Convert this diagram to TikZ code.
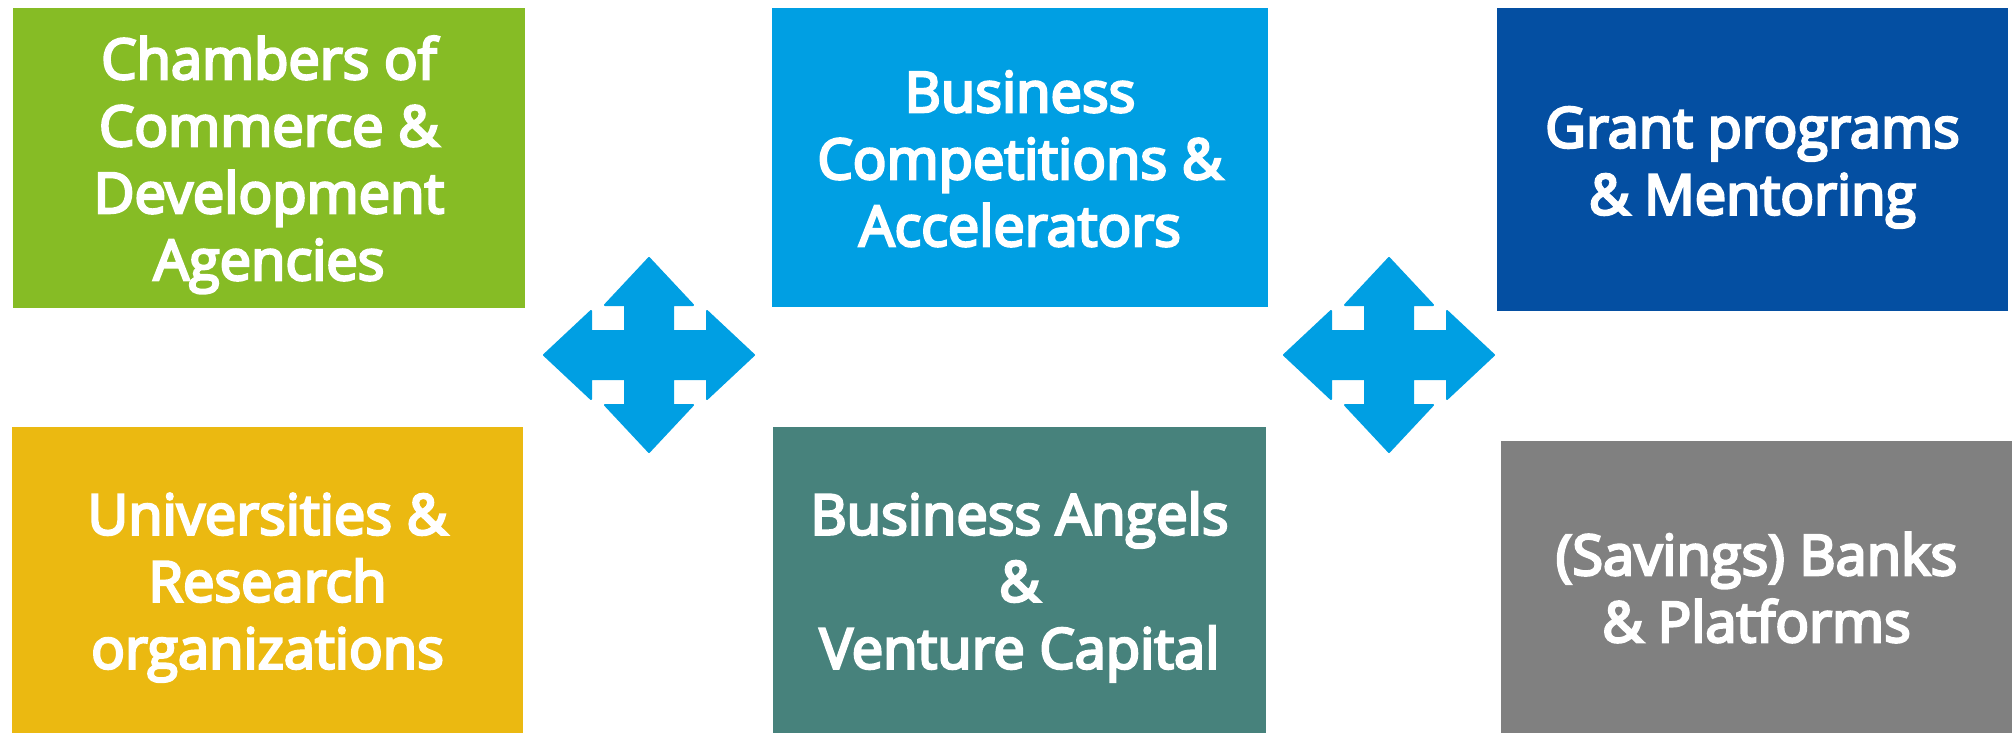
\documentclass[tikz,border=0pt]{standalone}
\usepackage{fontspec}
\setmainfont{Open Sans}[FakeBold=4.5]
\definecolor{cgreen}{RGB}{134,188,37}
\definecolor{cblue}{RGB}{0,159,227}
\definecolor{cdark}{RGB}{4,79,162}
\definecolor{cyellow}{RGB}{235,185,17}
\definecolor{cteal}{RGB}{71,130,124}
\definecolor{cgray}{RGB}{128,128,128}
\newcommand{\firstln}[1]{\rule{0pt}{43pt}\smash{#1}}
\newcommand{\otherln}[1]{\smash{#1}}
\tikzset{
  box/.style={rectangle, inner sep=0pt, text=white, align=center,
    font=\fontsize{56}{67}\selectfont},
  quadarrow/.pic={
    \filldraw[cblue, line width=2pt, line join=round]
      (0,-97) -- (44,-50) -- (24,-50) -- (24,-24) -- (58,-24) -- (58,-44)
      -- (105,0) -- (58,44) -- (58,24) -- (24,24) -- (24,50) -- (44,50)
      -- (0,97) -- (-44,50) -- (-24,50) -- (-24,24) -- (-58,24) -- (-58,44)
      -- (-105,0) -- (-58,-44) -- (-58,-24) -- (-24,-24) -- (-24,-50) -- (-44,-50)
      -- cycle;
  }
}
\begin{document}
\begin{tikzpicture}[x=1pt,y=-1pt]
\useasboundingbox (0,0) rectangle (2014,733);
\node[box, fill=cgreen, minimum width=512pt, minimum height=300pt] (chambers) at (269,158)
  {\firstln{Chambers of}\\\otherln{Commerce \&}\\\otherln{Development}\\\otherln{Agencies}};
\node[box, fill=cblue, minimum width=496pt, minimum height=299pt] (competitions) at (1020,157.5)
  {\firstln{Business}\\\otherln{Competitions \&}\\\otherln{Accelerators}};
\node[box, fill=cdark, minimum width=511pt, minimum height=303pt] (grants) at (1752.5,159.5)
  {\firstln{Grant programs}\\\otherln{\& Mentoring}};
\node[box, fill=cyellow, minimum width=511pt, minimum height=306pt] (universities) at (267.5,580)
  {\firstln{Universities \&}\\\otherln{Research}\\\otherln{organizations}};
\node[box, fill=cteal, minimum width=493pt, minimum height=306pt] (angels) at (1019.5,580)
  {\firstln{Business Angels}\\\otherln{\&}\\\otherln{Venture Capital}};
\node[box, fill=cgray, minimum width=511pt, minimum height=292pt] (banks) at (1756.5,587)
  {\firstln{(Savings) Banks}\\\otherln{\& Platforms}};
\pic (arrowleft) at (649,355) {quadarrow};
\pic (arrowright) at (1389,355) {quadarrow};
\end{tikzpicture}
\end{document}
